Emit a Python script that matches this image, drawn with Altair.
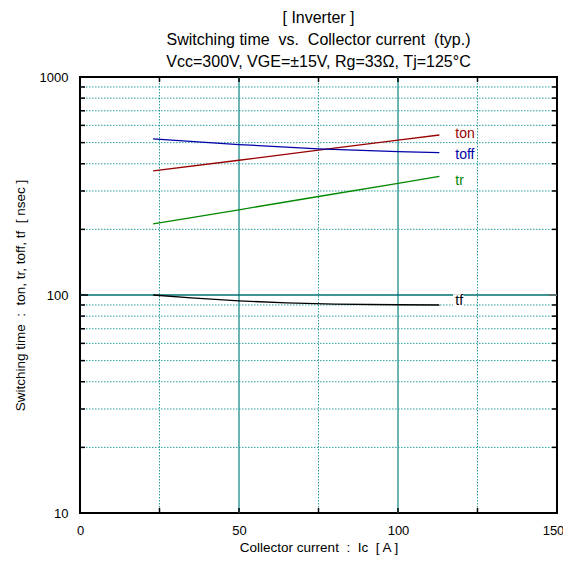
import altair as alt
import pandas as pd

# ---- data ----
ic = [23, 50, 75, 100, 113]
ton = [371, 415, 462, 513, 542]
toff = [520, 490, 468, 455, 450]
tr = [212, 246, 283, 325, 350]
tf_x = [23, 35, 50, 65, 80, 100, 113]
tf = [100, 97, 94, 92, 90.8, 90.2, 90]

series_names = ["ton", "toff", "tr", "tf"]
series_colors = ["#990000", "#0000aa", "#008800", "#000000"]
label_x = [118, 118, 118, 118]
label_y = [548, 440, 333, 94]

x_ticks = [0, 50, 100, 150]
y_ticks = [10, 100, 1000]
x_minor_grid = [25, 75, 125]
x_major_grid = [50, 100]
y_minor_grid = [20, 30, 40, 50, 60, 70, 80, 90, 200, 300, 400, 500, 600, 700, 800, 900]
y_major_grid = [100]
x_tick_marks = [25, 50, 75, 100, 125]

NB = "\u00a0"
title_lines = ["[ Inverter ]",
               f"Switching time {NB}vs. {NB}Collector current {NB}(typ.)",
               "Vcc=300V, VGE=±15V, Rg=33Ω, Tj=125°C"]
x_title = f"Collector current {NB}: {NB}Ic {NB}[ A ]"
y_title = f"Switching time {NB}: {NB}ton, tr, toff, tf {NB}[ nsec ]"

W, H = 477, 436

rows = []
for n, xs_, ys_ in [("ton", ic, ton), ("toff", ic, toff), ("tr", ic, tr), ("tf", tf_x, tf)]:
    for a, b in zip(xs_, ys_):
        rows.append({"series": n, "ic": a, "t": b})
df = pd.DataFrame(rows)

lab = pd.DataFrame({"series": series_names, "x": label_x, "y": label_y})

xs = alt.Scale(domain=[0, 150], nice=False, zero=False)
ys = alt.Scale(type="log", domain=[10, 1000], nice=False)
cscale = alt.Scale(domain=series_names, range=series_colors)

X = alt.X("ic:Q", scale=xs, axis=alt.Axis(values=x_ticks, ticks=False, domain=False, grid=False,
                                           labelFlush=False, labelPadding=11, labelFontSize=13,
                                           labelOffset=alt.ExprRef("datum.value == 150 ? -4 : 0"),
                                           labelColor="#000", title=x_title, titleFontSize=13.5,
                                           titleFontWeight="normal", titlePadding=3, titleColor="#000"))
Y = alt.Y("t:Q", scale=ys, axis=alt.Axis(values=y_ticks, format="d", ticks=False, domain=False, grid=False,
                                          labelFlush=False, labelPadding=12, labelFontSize=13,
                                          labelColor="#000", title=y_title,
                                          titleFontSize=13.5, titleFontWeight="normal", titlePadding=12,
                                          titleColor="#000"))

lines = alt.Chart(df).mark_line(strokeWidth=1.3).encode(
    x=X, y=Y, color=alt.Color("series:N", scale=cscale, legend=None), detail="series:N"
)

vmin = alt.Chart(pd.DataFrame({"v": x_minor_grid})).mark_rule(
    color="#2a9d9d", strokeWidth=1, strokeDash=[1.5, 1.5]).encode(
    x=alt.X("v:Q", scale=xs), y=alt.value(0), y2=alt.value(H))
vmaj = alt.Chart(pd.DataFrame({"v": x_major_grid})).mark_rule(
    color="#6bb5b5", strokeWidth=2).encode(
    x=alt.X("v:Q", scale=xs), y=alt.value(0), y2=alt.value(H))
hmin = alt.Chart(pd.DataFrame({"v": y_minor_grid})).mark_rule(
    color="#2a9d9d", strokeWidth=1, strokeDash=[1.5, 1.5]).encode(
    y=alt.Y("v:Q", scale=ys), x=alt.value(0), x2=alt.value(W))
hmaj = alt.Chart(pd.DataFrame({"v": y_major_grid})).mark_rule(
    color="#007070", strokeWidth=1.5).encode(
    y=alt.Y("v:Q", scale=ys), x=alt.value(0), x2=alt.value(W))

# white box behind the "tf" label
box = alt.Chart(pd.DataFrame({"x": [117.3], "x2": [120.6], "y": [88.8], "y2": [100.8]})).mark_rect(
    color="white").encode(x=alt.X("x:Q", scale=xs), x2="x2:Q", y=alt.Y("y:Q", scale=ys), y2="y2:Q")

labels = alt.Chart(lab).mark_text(align="left", baseline="middle", fontSize=14).encode(
    x=alt.X("x:Q", scale=xs), y=alt.Y("y:Q", scale=ys),
    text="series:N", color=alt.Color("series:N", scale=cscale, legend=None))

lt = alt.Chart(pd.DataFrame({"v": y_minor_grid})).mark_rule(color="black", strokeWidth=1.5).encode(
    y=alt.Y("v:Q", scale=ys), x=alt.value(0), x2=alt.value(5))
rt = alt.Chart(pd.DataFrame({"v": y_minor_grid})).mark_rule(color="black", strokeWidth=1.5).encode(
    y=alt.Y("v:Q", scale=ys), x=alt.value(W - 5), x2=alt.value(W))
lt2 = alt.Chart(pd.DataFrame({"v": y_major_grid})).mark_rule(color="black", strokeWidth=1.5).encode(
    y=alt.Y("v:Q", scale=ys), x=alt.value(0), x2=alt.value(8))
rt2 = alt.Chart(pd.DataFrame({"v": y_major_grid})).mark_rule(color="#666", strokeWidth=1.5).encode(
    y=alt.Y("v:Q", scale=ys), x=alt.value(W - 8), x2=alt.value(W))
bt = alt.Chart(pd.DataFrame({"v": x_tick_marks})).mark_rule(color="black", strokeWidth=1.5).encode(
    x=alt.X("v:Q", scale=xs), y=alt.value(H - 5), y2=alt.value(H))
tt = alt.Chart(pd.DataFrame({"v": x_tick_marks})).mark_rule(color="black", strokeWidth=1.5).encode(
    x=alt.X("v:Q", scale=xs), y=alt.value(0), y2=alt.value(5))

chart = alt.layer(vmin, vmaj, hmin, hmaj, box, lines, labels, lt, rt, lt2, rt2, bt, tt).properties(
    width=W, height=H,
    autosize=alt.AutoSizeParams(type="none"),
    padding={"left": 72, "top": 69, "right": 6, "bottom": 42},
    title=alt.TitleParams(
        text=title_lines,
        fontSize=16, fontWeight="normal", lineHeight=22, offset=1, anchor="middle", color="#000"),
).configure(font="Liberation Sans").configure_view(stroke="black", strokeWidth=2)

chart.save("out.html", embed_options={"renderer": "svg", "actions": False})
